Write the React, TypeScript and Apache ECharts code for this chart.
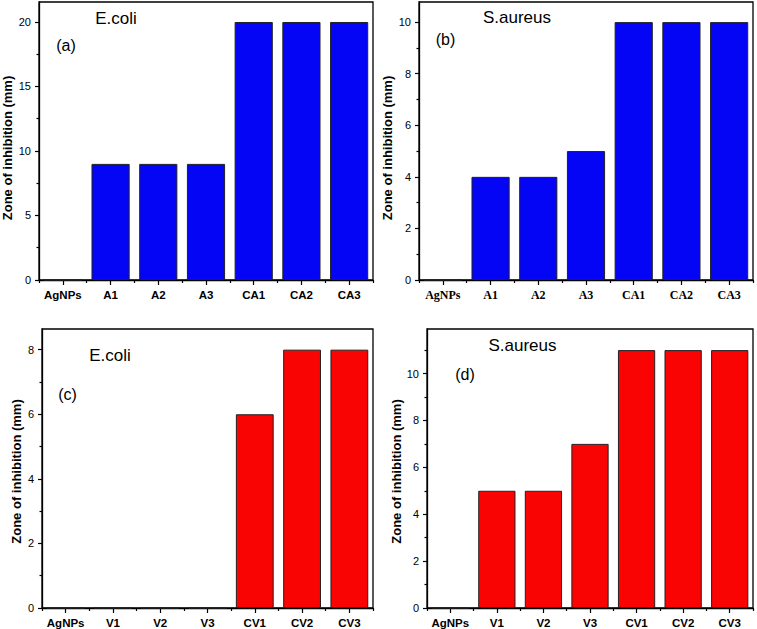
import React, { useEffect, useRef } from "react";
import * as echarts from "echarts";

const catA = ["AgNPs", "A1", "A2", "A3", "CA1", "CA2", "CA3"];
const catV = ["AgNPs", "V1", "V2", "V3", "CV1", "CV2", "CV3"];
const ecoliA = [0, 9, 9, 9, 20, 20, 20];
const saureusA = [0, 4, 4, 5, 10, 10, 10];
const ecoliV = [0, 0, 0, 0, 6, 8, 8];
const saureusV = [0, 5, 5, 7, 11, 11, 11];

const ticksA = [0, 5, 10, 15, 20];
const minorA = [2.5, 7.5, 12.5, 17.5];
const ticksB = [0, 2, 4, 6, 8, 10];
const minorB = [1, 3, 5, 7, 9];
const ticksC = [0, 2, 4, 6, 8];
const minorC = [1, 3, 5, 7];
const ticksD = [0, 2, 4, 6, 8, 10];
const minorD = [1, 3, 5, 7, 9, 11];

const maxA = 21.55;
const maxB = 10.78;
const maxC = 8.64;
const maxD = 11.9;

const yName = "Zone of inhibition (mm)";
const BLUE = "#0505F5";
const RED = "#FA0303";
const SANS = "Liberation Sans, Arial, sans-serif";
const SERIF = "Liberation Serif, Times New Roman, serif";

export default function App() {
  const ref = useRef<HTMLDivElement>(null);
  useEffect(() => {
    if (!ref.current) return;
    const chart = echarts.init(ref.current, null, { renderer: "svg" });

    const grids = [
      { left: 39, top: 2, width: 334, height: 278 },
      { left: 419, top: 2, width: 334, height: 278 },
      { left: 42, top: 329, width: 331, height: 279 },
      { left: 427, top: 329, width: 326, height: 279 },
    ];
    const panels = [
      { cats: catA, data: ecoliA, color: BLUE, max: maxA, ticks: ticksA, minor: minorA, labelFont: SANS },
      { cats: catA, data: saureusA, color: BLUE, max: maxB, ticks: ticksB, minor: minorB, labelFont: SERIF },
      { cats: catV, data: ecoliV, color: RED, max: maxC, ticks: ticksC, minor: minorC, labelFont: SANS },
      { cats: catV, data: saureusV, color: RED, max: maxD, ticks: ticksD, minor: minorD, labelFont: SANS },
    ];

    const xAxis: any[] = [];
    const yAxis: any[] = [];
    const series: any[] = [];
    panels.forEach((p, i) => {
      xAxis.push({
        type: "category",
        gridIndex: i,
        data: p.cats,
        position: "bottom",
        axisLine: { show: true, lineStyle: { color: "#000", width: 1.3 } },
        axisTick: { show: true, alignWithLabel: true, inside: false, length: 5, lineStyle: { color: "#000", width: 1.2 } },
        axisLabel: {
          color: "#000",
          fontWeight: "bold",
          fontSize: p.labelFont === SERIF ? 12 : 11.5,
          fontFamily: p.labelFont,
          margin: 9,
          interval: 0,
        },
        splitLine: { show: false },
      });
      xAxis.push({
        type: "category",
        gridIndex: i,
        data: p.cats,
        position: "bottom",
        axisLine: { show: false },
        axisTick: { show: true, alignWithLabel: false, length: 3, interval: 0, lineStyle: { color: "#000", width: 1.2 } },
        axisLabel: { show: false },
        splitLine: { show: false },
      });
      yAxis.push({
        type: "value",
        gridIndex: i,
        min: 0,
        max: p.max,
        position: "left",
        axisLine: { show: true, lineStyle: { color: "#000", width: 1.3 } },
        axisTick: { show: true, customValues: p.ticks, length: 4, lineStyle: { color: "#000", width: 1.2 } },
        axisLabel: {
          customValues: p.ticks,
          color: "#000",
          fontSize: 11,
          fontFamily: SANS,
          margin: 8,
        },
        splitLine: { show: false },
      });
      yAxis.push({
        type: "value",
        gridIndex: i,
        min: 0,
        max: p.max,
        position: "left",
        offset: 0,
        axisLine: { show: false },
        axisTick: { show: true, customValues: p.minor, length: 2.5, lineStyle: { color: "#000", width: 1.2 } },
        axisLabel: { show: false },
        splitLine: { show: false },
      });
      series.push({
        type: "bar",
        xAxisIndex: i * 2,
        yAxisIndex: i * 2,
        data: p.data,
        barCategoryGap: "20%",
        itemStyle: { color: p.color, borderColor: "#222", borderWidth: 1 },
      });
    });

    const txt = (text: string, x: number, y: number, size: number, extra: any = {}) => ({
      type: "text",
      x,
      y,
      ...extra,
      style: {
        text,
        fontSize: size,
        fontFamily: SANS,
        fill: "#000",
        align: "center",
        verticalAlign: "middle",
        ...(extra.style || {}),
      },
    });
    const nameStyle = { style: { fontWeight: "bold", fontSize: 13 } };

    const graphic = [
      txt("E.coli", 116, 18, 17),
      txt("(a)", 66, 45, 16),
      txt("S.aureus", 517, 17, 17),
      txt("(b)", 445.5, 39, 16),
      txt("E.coli", 110, 355.5, 17),
      txt("(c)", 67.5, 394, 16),
      txt("S.aureus", 522.5, 345, 17),
      txt("(d)", 465, 374.5, 16),
      { ...txt(yName, 7, 148, 13, nameStyle), rotation: Math.PI / 2 },
      { ...txt(yName, 387, 148, 13, nameStyle), rotation: Math.PI / 2 },
      { ...txt(yName, 16.5, 471.5, 13, nameStyle), rotation: Math.PI / 2 },
      { ...txt(yName, 396.5, 471.5, 13, nameStyle), rotation: Math.PI / 2 },
    ];

    chart.setOption({
      animation: false,
      backgroundColor: "#fff",
      grid: grids.map((g) => ({ ...g, show: true, borderColor: "#000", borderWidth: 1.3, backgroundColor: "transparent", containLabel: false })),
      xAxis,
      yAxis,
      series,
      graphic,
    });
    return () => chart.dispose();
  }, []);
  return (
    <div
      ref={ref}
      style={{ position: "fixed", left: 0, top: 0, width: 757, height: 629, background: "#fff" }}
    />
  );
}
